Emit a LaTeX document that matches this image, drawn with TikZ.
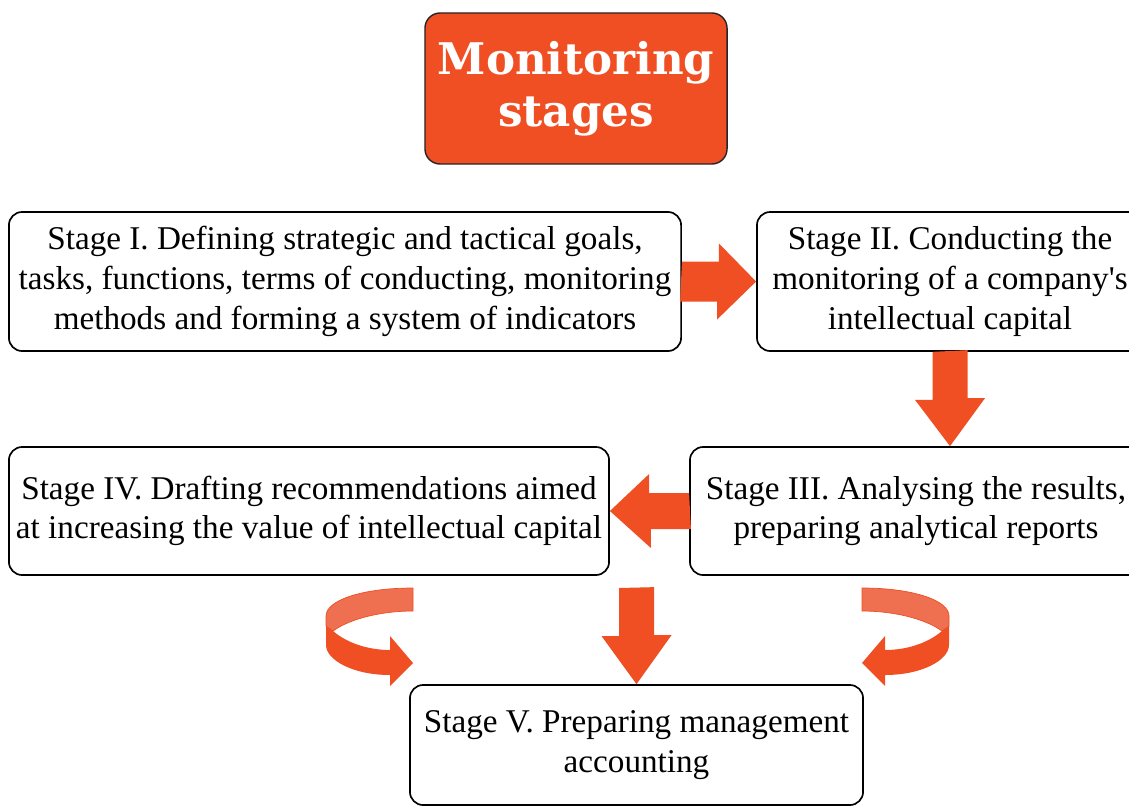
\documentclass[tikz,border=0pt]{standalone}
\usepackage{fontspec}
\setmainfont{Liberation Serif}
\newfontfamily\titlefont{DejaVu Serif}
\usetikzlibrary{calc}

\definecolor{stageorange}{RGB}{240,78,35}
\definecolor{ribbonlight}{RGB}{238,112,80}

\tikzset{
  stagebox/.style={draw=black, line width=1.2pt, rounded corners=0.33cm, fill=white,
    align=center, inner sep=0pt, font=\fontsize{23.6}{28.2}\selectfont},
  titlebox/.style={draw=black!85, line width=1pt, rounded corners=0.38cm, fill=stageorange,
    text=white, align=center, inner sep=0pt, font=\titlefont\bfseries\fontsize{31}{37}\selectfont},
  blockarrow/.style={fill=stageorange},
  ribbonback/.style={fill=ribbonlight, draw=stageorange, line width=0.5pt},
  ribbonfront/.style={fill=stageorange}
}

\begin{document}
\begin{tikzpicture}[x=0.025cm, y=-0.025cm]
\useasboundingbox (0,0) rectangle (1129,809);
\clip (0,0) rectangle (1129,809);

\node [titlebox, minimum width=7.55cm, minimum height=3.775cm] (title) at (576,88.5) {Monitoring\\stages};

\node [stagebox, minimum width=16.8cm, minimum height=3.475cm] (s1) at (345,281.5)
  {Stage I. Defining strategic and tactical goals,\\tasks, functions, terms of conducting, monitoring\\methods and forming a system of indicators};
\node [stagebox, minimum width=9.65cm, minimum height=3.475cm] (s2) at (950,281.5)
  {Stage II. Conducting the\\monitoring of a company\textquotesingle s\\intellectual capital};
\node [stagebox, minimum width=11.3cm, minimum height=3.2cm] (s3) at (916,511)
  {Stage III. Analysing the results,\\preparing analytical reports};
\node [stagebox, minimum width=15cm, minimum height=3.2cm] (s4) at (309,511)
  {Stage IV. Drafting recommendations aimed\\at increasing the value of intellectual capital};
\node [stagebox, minimum width=11.325cm, minimum height=3cm] (s5) at (636.5,745)
  {Stage V. Preparing management\\accounting};

\coordinate (mid) at (636.5,588);
\coordinate (lcurl) at (413,588);
\coordinate (rcurl) at (862,588);

% block arrows between the stages
\fill [blockarrow] ($(s1.east)+(0,-20)$) -- ++(37,0) -- ++(0,-18) -- (s2.west)
  -- ++(-39,38) -- ++(0,-18) -- ++(-37,0) -- cycle;
\fill [blockarrow] ($(s2.south)+(-17.5,0)$) -- ++(0,48) -- ++(-17.5,0) -- (s2.south |- s3.north)
  -- ++(35,-48) -- ++(-17.5,0) -- ++(0,-48) -- cycle;
\fill [blockarrow] ($(s3.west)+(0,-18)$) -- ++(-40,0) -- ++(0,-19) -- (s4.east)
  -- ++(41,37) -- ++(0,-19) -- ++(40,0) -- cycle;
\fill [blockarrow] ($(mid)+(-17.5,0)$) -- ++(0,48) -- ++(-17.5,0) -- (s5.north)
  -- ++(35,-49) -- ++(-17.5,0) -- ++(0,-48) -- cycle;

% curled arrows
\foreach \c/\flip in {lcurl/1, rcurl/-1} {
  \begin{scope}[shift={(\c)}, xscale=\flip]
    \filldraw [ribbonback] (0,0) .. controls (-50,0) and (-87,12) .. (-87,28) -- (-87,38) -- (-80,43)
      .. controls (-62,30) and (-30,23) .. (0,23) -- cycle;
    \fill [ribbonfront] (-87,38) -- (-87,57) .. controls (-87,72) and (-60,87) .. (-23,87)
      -- (-23,98) -- (0,75) -- (-23,48) -- (-23,62) .. controls (-45,62) and (-66,55) .. (-80,43) -- cycle;
  \end{scope}
}
\end{tikzpicture}
\end{document}
